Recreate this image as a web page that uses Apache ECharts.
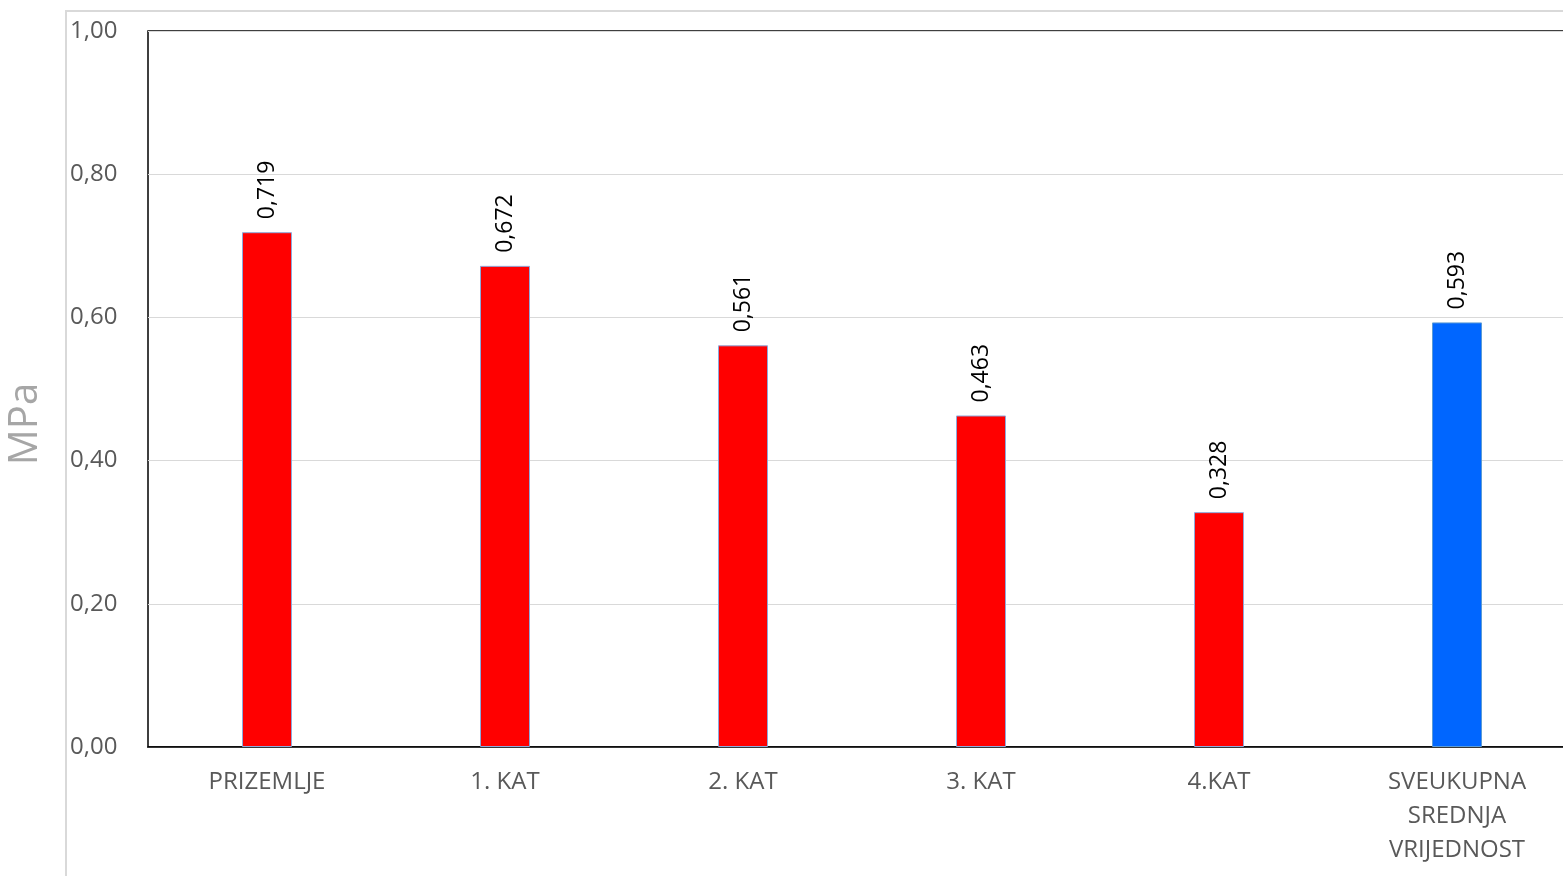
<!DOCTYPE html>
<html>
<head>
<meta charset="utf-8">
<style>
  html, body { margin: 0; padding: 0; background: #ffffff; overflow: hidden; }
  #chart { width: 1580px; height: 876px; }
</style>
<script src="https://cdn.jsdelivr.net/npm/echarts@6/dist/echarts.min.js"></script>
</head>
<body>
<div id="chart"></div>
<script>
// Categories along the x axis (floors plus the overall mean)
const categories = ['PRIZEMLJE', '1. KAT', '2. KAT', '3. KAT', '4.KAT', 'SVEUKUPNA\nSREDNJA\nVRIJEDNOST'];
// Mean values in MPa
const values = [0.719, 0.672, 0.561, 0.463, 0.328, 0.593];
// Which bars are the overall mean (drawn in blue)
const isTotal = [false, false, false, false, false, true];
// Y axis range and step
const yMin = 0, yMax = 1, yStep = 0.2;
const yAxisTitle = 'MPa';

const fmt = v => v.toFixed(2).replace('.', ',');
const fmt3 = v => v.toFixed(3).replace('.', ',');

const chart = echarts.init(document.getElementById('chart'), null, { renderer: 'canvas' });

const barData = values.map((v, i) => ({
  value: v,
  itemStyle: isTotal[i]
    ? { color: '#0066FF', borderColor: '#5B9BD5', borderWidth: 1 }
    : { color: '#FF0000', borderColor: '#8EA9DB', borderWidth: 1 }
}));

chart.setOption({
  animation: false,
  backgroundColor: '#ffffff',
  textStyle: { fontFamily: 'Open Sans' },
  graphic: [
    {
      // outer chart-area frame
      type: 'rect',
      shape: { x: 66, y: 11, width: 1600, height: 1000 },
      style: { fill: 'none', stroke: '#D9D9D9', lineWidth: 2 },
      z: -1
    },
    {
      // y axis title
      type: 'text',
      x: 26, y: 424,
      rotation: Math.PI / 2,
      style: {
        text: yAxisTitle,
        fill: '#A6A6A6',
        font: '40px "Open Sans"',
        align: 'center',
        verticalAlign: 'middle'
      }
    }
  ],
  grid: {
    left: 148, top: 31, right: 4, bottom: 129,
    show: true, borderColor: '#000000', borderWidth: 1.5,
    containLabel: false
  },
  xAxis: {
    type: 'category',
    data: categories,
    axisLine: { show: true, lineStyle: { color: '#000000', width: 1.5 } },
    axisTick: { show: false },
    axisLabel: {
      color: '#595959', fontSize: 24, lineHeight: 34, margin: 18,
      fontFamily: 'Open Sans', interval: 0
    }
  },
  yAxis: {
    type: 'value',
    min: yMin, max: yMax, interval: yStep,
    axisLine: { show: false },
    axisTick: { show: false },
    splitLine: { lineStyle: { color: '#D9D9D9', width: 1 } },
    axisLabel: {
      color: '#595959', fontSize: 24, margin: 78, align: 'left',
      fontFamily: 'Open Sans',
      formatter: v => fmt(v)
    }
  },
  series: [{
    type: 'bar',
    data: barData,
    barWidth: 50,
    label: {
      show: true,
      position: 'top',
      rotate: 90,
      align: 'left',
      verticalAlign: 'middle',
      distance: 13,
      color: '#000000',
      fontSize: 23,
      fontFamily: 'Open Sans',
      formatter: p => fmt3(p.value)
    }
  }]
});
</script>
</body>
</html>
